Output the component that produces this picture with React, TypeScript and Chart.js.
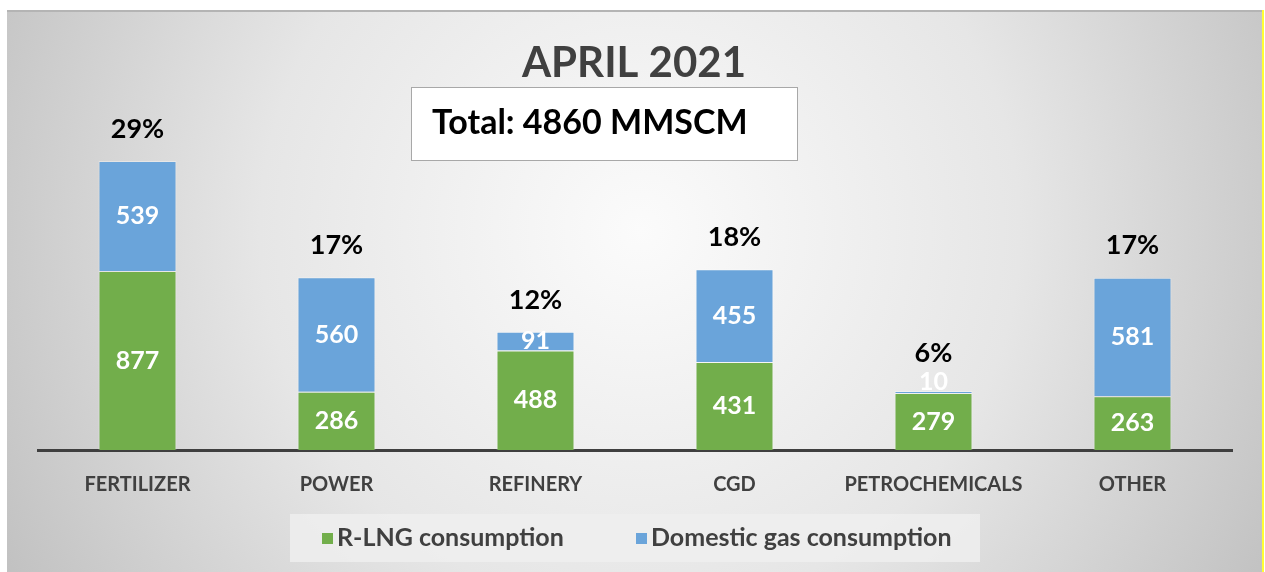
import React, { useEffect, useRef } from "react";
import { Chart, registerables } from "chart.js";

Chart.register(...registerables);

const categories = ["FERTILIZER", "POWER", "REFINERY", "CGD", "PETROCHEMICALS", "OTHER"];
const rlngValues = [877, 286, 488, 431, 279, 263];
const domesticValues = [539, 560, 91, 455, 10, 581];
const shareLabels = ["29%", "17%", "12%", "18%", "6%", "17%"];
const seriesNames = ["R-LNG consumption", "Domestic gas consumption"];
const titleText = "APRIL 2021";
const totalText = "Total: 4860 MMSCM";

const GREEN = "#72AE4B";
const BLUE = "#6AA4DA";
const FONT = "Lato, 'Open Sans', sans-serif";

const decorPlugin = {
  id: "decor",
  beforeDraw(chart: any) {
    const ctx = chart.ctx;
    const W = chart.width;
    const H = chart.height;
    ctx.save();
    ctx.fillStyle = "#ffffff";
    ctx.fillRect(0, 0, W, H);
    const g = ctx.createRadialGradient(640, 230, 0, 640, 230, 760);
    g.addColorStop(0, "#fbfbfb");
    g.addColorStop(0.5, "#e6e6e6");
    g.addColorStop(1, "#bdbdbd");
    ctx.fillStyle = g;
    ctx.fillRect(7, 10, 1255, H - 10);
    ctx.fillStyle = "#b4b4b4";
    ctx.fillRect(7, 10, 1255, 2);
    ctx.fillStyle = "#ffff33";
    ctx.fillRect(1262, 10, 2, H - 10);

    // title
    ctx.fillStyle = "#404040";
    ctx.font = `bold 42px ${FONT}`;
    ctx.textAlign = "center";
    ctx.textBaseline = "middle";
    ctx.fillText(titleText, 634, 63);

    // total box
    ctx.fillStyle = "#ffffff";
    ctx.fillRect(411, 87, 386, 73);
    ctx.strokeStyle = "#a8a8a8";
    ctx.lineWidth = 1;
    ctx.strokeRect(411.5, 87.5, 386, 73);
    ctx.fillStyle = "#000000";
    ctx.font = `bold 34px ${FONT}`;
    ctx.textAlign = "left";
    ctx.fillText(totalText, 432, 123);

    // legend
    ctx.fillStyle = "rgba(238,238,238,0.85)";
    ctx.fillRect(290, 514, 690, 48);
    const colors = [GREEN, BLUE];
    const xs = [322, 636];
    ctx.font = `bold 25px ${FONT}`;
    ctx.textBaseline = "middle";
    for (let i = 0; i < 2; i++) {
      ctx.fillStyle = colors[i];
      ctx.fillRect(xs[i], 533, 11, 11);
      ctx.fillStyle = "#404040";
      ctx.fillText(seriesNames[i], xs[i] + 15, 538);
    }
    ctx.restore();
  },
  afterDatasetsDraw(chart: any) {
    const ctx = chart.ctx;
    ctx.save();
    ctx.textAlign = "center";
    ctx.textBaseline = "middle";
    chart.data.datasets.forEach((ds: any, di: number) => {
      const meta = chart.getDatasetMeta(di);
      meta.data.forEach((bar: any, i: number) => {
        const top = Math.min(bar.y, bar.base);
        const bottom = Math.max(bar.y, bar.base);
        const h = bottom - top;
        let cy = (top + bottom) / 2;
        if (h < 10) cy = top - 9;
        ctx.fillStyle = "#ffffff";
        ctx.font = `bold 25px ${FONT}`;
        ctx.fillText(String(ds.data[i]), bar.x, cy);
      });
    });
    const lastMeta = chart.getDatasetMeta(chart.data.datasets.length - 1);
    lastMeta.data.forEach((bar: any, i: number) => {
      const extra = domesticValues[i] < 30 ? 6 : 0;
      ctx.fillStyle = "#000000";
      ctx.font = `bold 27px ${FONT}`;
      ctx.fillText(shareLabels[i], bar.x, bar.y - 32 - extra);
    });
    ctx.restore();
  },
};

export default function App() {
  const ref = useRef<HTMLCanvasElement>(null);
  useEffect(() => {
    if (!ref.current) return;
    const chart = new Chart(ref.current, {
      type: "bar",
      data: {
        labels: categories,
        datasets: [
          {
            label: seriesNames[0],
            data: rlngValues,
            backgroundColor: GREEN,
            borderColor: "rgba(255,255,255,0.35)",
            borderWidth: 1,
            barPercentage: 0.392,
            categoryPercentage: 1,
          },
          {
            label: seriesNames[1],
            data: domesticValues,
            backgroundColor: BLUE,
            borderColor: "rgba(255,255,255,0.35)",
            borderWidth: 1,
            barPercentage: 0.392,
            categoryPercentage: 1,
          },
        ],
      },
      options: {
        animation: false,
        responsive: false,
        maintainAspectRatio: false,
        layout: { padding: { left: 38, right: 33, top: 100, bottom: 52 } },
        plugins: {
          legend: { display: false },
          title: { display: false },
          tooltip: { enabled: false },
        },
        scales: {
          x: {
            stacked: true,
            grid: { display: false, drawTicks: false },
            border: { display: true, color: "#3f3f3f", width: 3 },
            ticks: {
              color: "#404040",
              font: { family: FONT, weight: "bold", size: 20 },
              padding: 23,
            },
          },
          y: {
            stacked: true,
            display: false,
            min: 0,
            max: 1715,
          },
        },
      },
      plugins: [decorPlugin],
    });
    return () => chart.destroy();
  }, []);
  return (
    <div style={{ position: "fixed", left: 0, top: 0, width: 1265, height: 572 }}>
      <canvas ref={ref} width={1265} height={572} style={{ display: "block" }} />
    </div>
  );
}
